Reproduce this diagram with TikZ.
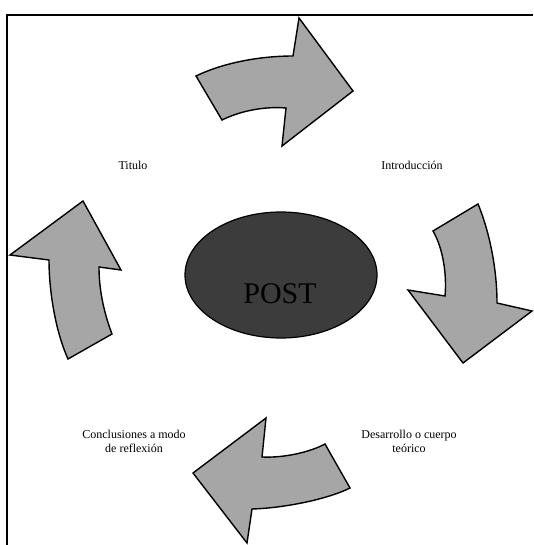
\documentclass[tikz,border=0pt]{standalone}
\usepackage{fontspec}
\setmainfont{Liberation Serif}
\definecolor{arrowgray}{HTML}{A6A6A6}
\definecolor{postgray}{HTML}{3C3C3C}
\tikzset{
    bigarrow/.style={fill=arrowgray, draw=black, line width=1.4pt, line join=miter},
    steplabel/.style={font=\fontsize{12}{14}\selectfont, align=center}
}
\begin{document}
\begin{tikzpicture}[x=1pt,y=-1pt]
            \useasboundingbox (0,0) rectangle (533,545);
            % Draw the frame (top and left side only)
            \draw[line width=2pt] (533,15) -- (7,15) -- (7,545);

            % Draw the centre ellipse
            \draw[fill=postgray, line width=1.2pt] (281,275) ellipse (96 and 63);
            \node (post) at (280,294) {\fontsize{30}{32}\selectfont POST};

            % Draw the four curved arrows
            % top arrow (to the right)
            \draw[bigarrow] (196,76) -- (222,120) .. controls (238,112) and (262,106) .. (286,108)
                -- (282,146) -- (353,91) -- (299,18) -- (293,56)
                .. controls (262,56) and (225,62) .. cycle;
            % right arrow (downwards)
            \draw[bigarrow] (433,231) -- (478,204) .. controls (488,228) and (497,265) .. (497,303)
                -- (532,311) -- (463,363) -- (408,290) -- (445,296)
                .. controls (447,275) and (443,248) .. cycle;
            % bottom arrow (to the left)
            \draw[bigarrow] (325,444) -- (350,488) .. controls (328,499) and (285,508) .. (252,509)
                -- (247,543) -- (193,473) -- (266,418) -- (262,457)
                .. controls (285,458) and (310,452) .. cycle;
            % left arrow (upwards)
            \draw[bigarrow] (68,359) -- (112,334) .. controls (104,313) and (99,290) .. (99,267)
                -- (121,270) -- (83,201) -- (10,255) -- (49,260)
                .. controls (49,290) and (55,330) .. cycle;

            % Draw the labels
            \node[steplabel] (titulo) at (133,165) {Titulo};
            \node[steplabel] (intro) at (412,165) {Introducción};
            \node[steplabel] (desarrollo) at (409,441) {Desarrollo o cuerpo\\teórico};
            \node[steplabel] (conclusiones) at (134,441) {Conclusiones a modo\\de reflexión};

            %\node at (281,275) {centro};
        \end{tikzpicture}
\end{document}
